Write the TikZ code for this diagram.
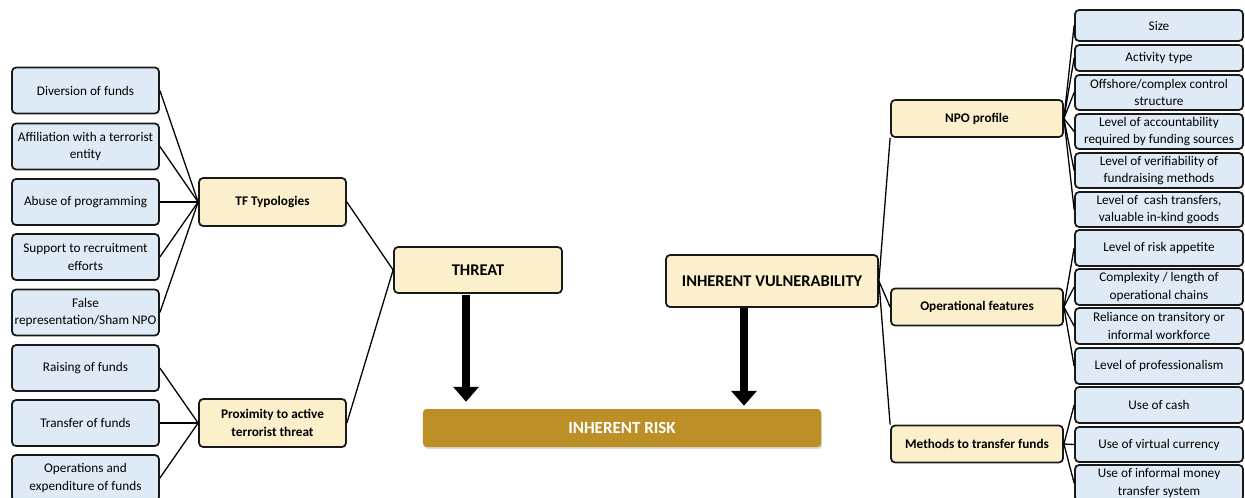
\documentclass[tikz,border=0pt]{standalone}
\usepackage{fontspec}
\setmainfont{Carlito}
\usetikzlibrary{arrows.meta,shadows}
\definecolor{leafblue}{HTML}{DEEBF7}
\definecolor{hubsand}{HTML}{FCF0CC}
\definecolor{riskgold}{HTML}{BD9027}

\begin{document}
\begin{tikzpicture}[x=0.03cm,y=-0.03cm,
    box/.style={draw=black!90,line width=1.5pt,rounded corners=3.5pt,align=center,
      inner sep=0pt,font=\fontsize{11.3}{14.8}\selectfont},
    leaf/.style={box,fill=leafblue},
    hub/.style={box,fill=hubsand,font=\fontsize{11.3}{14.8}\selectfont\bfseries},
    head/.style={box,fill=hubsand,font=\fontsize{14}{16}\selectfont\bfseries},
    link/.style={line width=1.1pt},
    bigarrow/.style={line width=7.5pt,-{Triangle[width=0.75cm,length=0.45cm]}}]
  \useasboundingbox (0,0) rectangle (1245,497);

  % threat branch
  \foreach \name/\y/\txt in {div/90.5/Diversion of funds,
      aff/146.5/{Affiliation with a terrorist\\entity},
      abu/202/Abuse of programming,
      sup/257/{Support to recruitment\\efforts},
      fal/312.5/{False\\representation/Sham NPO},
      rai/368/Raising of funds,
      tra/423/Transfer of funds,
      ope/478/{Operations and\\expenditure of funds}}
    \node[leaf,minimum width=4.41cm,minimum height=1.38cm] (\name) at (85.5,\y) {\txt};
  \node[hub,minimum width=4.41cm,minimum height=1.44cm] (tft) at (272.5,202) {TF Typologies};
  \node[hub,minimum width=4.41cm,minimum height=1.44cm] (prox) at (272.5,423)
    {Proximity to active\\terrorist threat};
  \node[head,minimum width=5.04cm,minimum height=1.38cm] (threat) at (478,270) {THREAT};
  \foreach \name in {div,aff,abu,sup,fal}
    \draw[link] (\name.east) -- (tft.west);
  \foreach \name in {rai,tra,ope}
    \draw[link] (\name.east) -- (prox.west);
  \draw[link] (tft.east) -- (threat.west);
  \draw[link] (prox.east) -- (threat.west);

  % vulnerability branch
  \node[head,minimum width=6.36cm,minimum height=1.56cm] (vul) at (772,281)
    {INHERENT VULNERABILITY};
  \node[hub,minimum width=5.16cm,minimum height=1.11cm] (npo) at (977,118.5) {NPO profile};
  \node[hub,minimum width=5.16cm,minimum height=1.11cm] (opf) at (977,307) {Operational features};
  \node[hub,minimum width=5.16cm,minimum height=1.11cm] (mtf) at (977,444) {Methods to transfer funds};
  \foreach \name/\y/\h/\txt in {siz/25.5/0.93/Size,
      act/58/0.78/Activity type,
      off/92.5/1.05/{Offshore/complex control\\structure},
      acc/131.5/1.05/{Level of accountability\\required by funding sources},
      ver/170.5/1.05/{Level of verifiability of\\fundraising methods},
      csh/209.5/1.05/{Level of\ \ cash transfers,\\valuable in-kind goods},
      app/248/1.08/Level of risk appetite,
      cpx/287/1.08/{Complexity / length of\\operational chains},
      rel/326/1.08/{Reliance on transitory or\\informal workforce},
      pro/366/1.08/Level of professionalism,
      uoc/405/1.08/Use of cash,
      vir/444.5/1.05/Use of virtual currency,
      inf/483/1.08/{Use of informal money\\transfer system}}
    \node[leaf,minimum width=5.04cm,minimum height=\h cm] (\name) at (1159,\y) {\txt};
  \foreach \name in {siz,act,off,acc,ver,csh}
    \draw[link] (npo.east) -- (\name.west);
  \foreach \name in {app,cpx,rel,pro}
    \draw[link] (opf.east) -- (\name.west);
  \foreach \name in {uoc,vir,inf}
    \draw[link] (mtf.east) -- (\name.west);
  \draw[link] (vul.east) -- (npo.south west);
  \draw[link] (vul.east) -- (opf.west);
  \draw[link] (vul.east) -- (mtf.north west);

  % result
  \node[fill=riskgold,rounded corners=3pt,minimum width=11.94cm,minimum height=1.14cm,
    drop shadow={opacity=0.3,shadow xshift=1pt,shadow yshift=-1.5pt},text=white,
    font=\fontsize{14.5}{16}\selectfont\bfseries] (risk) at (622,428) {INHERENT RISK};
  \coordinate (t1) at ([xshift=-0.36cm,yshift=-1pt]threat.south);
  \coordinate (v1) at ([xshift=-0.84cm]vul.south);
  \draw[bigarrow,shorten >=0.21cm] (t1) -- (t1 |- risk.north);
  \draw[bigarrow,shorten >=0.09cm] (v1) -- (v1 |- risk.north);
\end{tikzpicture}
\end{document}
